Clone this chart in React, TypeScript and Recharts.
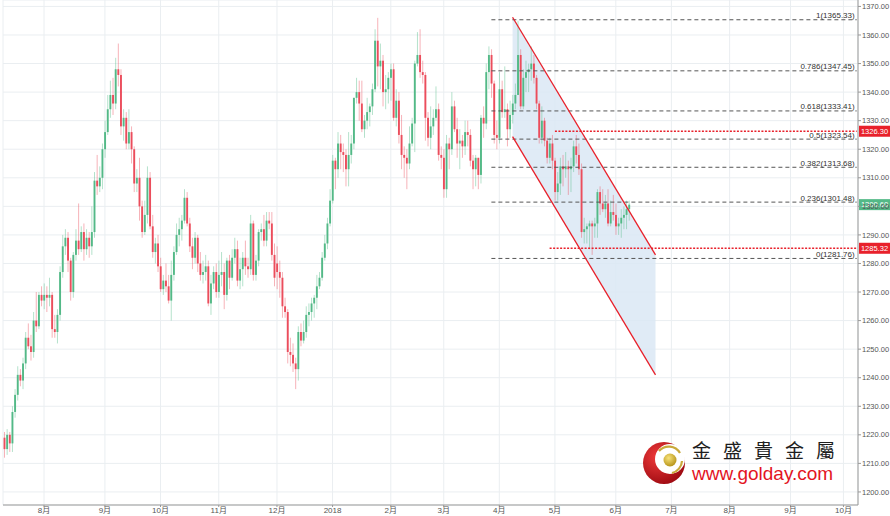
import React from "react";
import {
  ComposedChart, Bar, Area, Line, XAxis, YAxis,
  CartesianGrid, ReferenceLine,
} from "recharts";

// trading calendar
const START = "2017-07-11";
const SKIP_DAYS = ["2018-01-01", "2018-03-30"];
const N_DAYS = 323;

// daily candles [open, high, low, close]
const jul17 = [
  [1219,1221,1212,1215],[1215,1222,1213,1220],[1220,1221,1214,1217],[1217,1230,1214,1228],
  [1228,1236,1226,1234],[1234,1244,1232,1241],[1241,1243,1237,1239],[1239,1247,1236,1245],
  [1245,1256,1243,1254],[1254,1259,1250,1251],[1251,1255,1246,1249],[1249,1263,1247,1260],
  [1260,1270,1256,1258],[1258,1270,1257,1269],[1269,1272,1265,1267],
];
const aug17 = [
  [1267,1273,1264,1269],[1269,1272,1263,1268],[1268,1275,1265,1269],[1269,1270,1254,1257],
  [1257,1262,1254,1256],[1256,1264,1252,1262],[1262,1279,1260,1277],[1277,1290,1275,1286],
  [1286,1292,1283,1289],[1289,1291,1277,1281],[1281,1282,1267,1270],[1270,1284,1268,1283],
  [1283,1292,1281,1288],[1288,1301,1283,1285],[1285,1293,1284,1291],[1291,1294,1281,1285],
  [1285,1292,1283,1289],[1289,1291,1282,1286],[1286,1300,1283,1291],[1291,1312,1289,1309],
  [1309,1318,1304,1307],[1307,1314,1305,1310],[1310,1322,1306,1320],
];
const sep17 = [
  [1320,1330,1317,1326],[1326,1339,1325,1334],[1334,1344,1331,1339],[1339,1345,1332,1336],
  [1336,1352,1334,1348],[1348,1357,1342,1346],[1346,1348,1325,1328],[1328,1334,1323,1331],
  [1331,1333,1320,1322],[1322,1334,1320,1326],[1326,1328,1315,1320],[1320,1321,1305,1308],
  [1308,1313,1305,1310],[1310,1317,1295,1300],[1300,1302,1289,1291],[1291,1302,1290,1297],
  [1297,1314,1294,1310],[1310,1312,1292,1293],[1293,1297,1282,1284],[1284,1289,1280,1287],
  [1287,1290,1277,1279],
];
const oct17 = [
  [1279,1282,1270,1271],[1271,1276,1269,1274],[1274,1280,1270,1272],[1272,1276,1266,1267],
  [1267,1281,1260,1276],[1276,1286,1274,1284],[1284,1294,1283,1290],[1290,1296,1286,1292],
  [1292,1297,1288,1295],[1295,1306,1294,1303],[1303,1305,1293,1294],[1294,1296,1284,1286],
  [1286,1289,1278,1282],[1282,1291,1280,1289],[1289,1290,1277,1280],[1280,1284,1274,1276],
  [1276,1281,1273,1277],[1277,1283,1274,1279],[1279,1281,1265,1266],[1266,1276,1262,1273],
  [1273,1279,1271,1277],[1277,1280,1268,1270],
];
const nov17 = [
  [1270,1281,1268,1276],[1276,1284,1272,1277],[1277,1280,1264,1269],[1269,1282,1267,1281],
  [1281,1283,1271,1275],[1275,1285,1274,1282],[1282,1289,1280,1285],[1285,1288,1272,1274],
  [1274,1282,1271,1278],[1278,1284,1272,1282],[1282,1288,1276,1279],[1279,1282,1275,1278],
  [1278,1297,1276,1294],[1294,1295,1274,1276],[1276,1283,1274,1281],[1281,1292,1279,1291],
  [1291,1294,1288,1292],[1292,1297,1286,1288],[1288,1298,1286,1295],[1295,1298,1292,1294],
  [1294,1298,1281,1283],[1283,1287,1272,1275],
];
const dec17 = [
  [1280,1286,1271,1277],[1277,1281,1268,1275],[1275,1277,1261,1265],[1265,1268,1261,1263],
  [1263,1264,1245,1249],[1249,1254,1244,1248],[1248,1252,1242,1245],[1245,1247,1236,1243],
  [1243,1258,1239,1256],[1256,1259,1251,1253],[1253,1260,1252,1256],[1256,1265,1254,1262],
  [1262,1266,1258,1263],[1263,1268,1260,1266],[1266,1269,1261,1268],[1268,1276,1264,1272],
  [1272,1277,1271,1275],[1275,1284,1274,1282],[1282,1290,1281,1287],[1287,1296,1285,1294],
  [1294,1306,1293,1302],
];
const jan18 = [
  [1302,1318,1301,1316],[1316,1317,1306,1313],[1313,1326,1310,1322],[1322,1325,1313,1319],
  [1319,1322,1312,1318],[1318,1320,1307,1313],[1313,1326,1307,1318],[1318,1325,1315,1322],
  [1322,1338,1320,1338],[1338,1345,1336,1340],[1340,1344,1330,1336],[1336,1344,1326,1327],
  [1327,1332,1324,1330],[1330,1338,1327,1333],[1333,1336,1328,1335],[1335,1343,1332,1341],
  [1341,1362,1340,1358],[1358,1366,1342,1349],[1349,1357,1341,1351],[1351,1353,1335,1340],
  [1340,1346,1334,1341],[1341,1347,1336,1345],
];
const feb18 = [
  [1345,1350,1337,1348],[1348,1350,1330,1331],[1331,1341,1328,1337],[1337,1340,1322,1325],
  [1325,1332,1313,1318],[1318,1321,1310,1317],[1317,1320,1306,1315],[1315,1328,1313,1322],
  [1322,1331,1321,1329],[1329,1351,1319,1350],[1350,1361,1349,1353],[1353,1362,1345,1347],
  [1347,1351,1343,1346],[1346,1347,1323,1331],[1331,1333,1321,1324],[1324,1335,1320,1328],
  [1328,1334,1325,1331],[1331,1342,1330,1334],[1334,1336,1316,1318],[1318,1321,1313,1317],
];
const mar18 = [
  [1317,1320,1303,1306],[1306,1325,1303,1322],[1322,1324,1313,1320],[1320,1340,1318,1335],
  [1335,1337,1326,1327],[1327,1331,1317,1322],[1322,1327,1313,1323],[1323,1325,1317,1321],
  [1321,1330,1318,1326],[1326,1330,1321,1325],[1325,1327,1314,1316],[1316,1318,1306,1313],
  [1313,1318,1307,1317],[1317,1317,1306,1311],[1311,1332,1308,1331],[1331,1335,1324,1329],
  [1329,1350,1327,1347],[1347,1356,1341,1353],[1353,1355,1338,1343],[1343,1344,1322,1325],
  [1325,1330,1320,1324],
];
const apr18 = [
  [1324,1347,1322,1341],[1341,1344,1331,1333],[1333,1349,1331,1334],[1334,1336,1321,1327],
  [1327,1337,1324,1332],[1332,1339,1329,1336],[1336,1343,1334,1339],[1339,1365,1339,1353],
  [1353,1355,1334,1335],[1335,1348,1334,1345],[1345,1351,1340,1347],[1347,1350,1340,1348],
  [1348,1356,1344,1350],[1350,1353,1343,1345],[1345,1346,1334,1336],[1336,1337,1322,1324],
  [1324,1335,1322,1330],[1330,1331,1321,1323],[1323,1324,1315,1317],[1317,1324,1315,1322],
  [1322,1325,1313,1316],
];
const may18 = [
  [1316,1317,1302,1305],[1305,1312,1302,1308],[1308,1317,1304,1314],[1314,1318,1307,1313],
  [1313,1319,1310,1314],[1314,1316,1304,1313],[1313,1317,1305,1314],[1314,1323,1312,1321],
  [1321,1325,1315,1318],[1318,1322,1311,1313],[1313,1315,1289,1291],[1291,1296,1287,1292],
  [1292,1294,1287,1293],[1293,1295,1285,1294],[1294,1295,1283,1293],[1293,1296,1289,1294],
  [1294,1306,1289,1305],[1305,1307,1297,1301],[1301,1306,1298,1299],[1299,1304,1296,1301],
  [1301,1306,1293,1294],[1294,1302,1293,1298],[1298,1304,1295,1297],
];
const jun18 = [
  [1297,1301,1290,1293],[1293,1296,1290,1294],[1294,1299,1289,1296],[1296,1300,1292,1297],
  [1297,1302,1292,1299],[1299,1302,1295,1300.6],
];
const OHLC = [
  ...jul17, ...aug17, ...sep17, ...oct17, ...nov17, ...dec17,
  ...jan18, ...feb18, ...mar18, ...apr18, ...may18, ...jun18,
];

// fibonacci retracement
const FIB_RATIOS = ["1", "0.786", "0.618", "0.5", "0.382", "0.236", "0"];
const FIB_VALUES = [1365.33, 1347.45, 1333.41, 1323.54, 1313.68, 1301.48, 1281.76];
const FIB_FROM = "2018-03-27";

// falling channel
const CHANNEL_DATES = ["2018-04-09", "2018-06-22"];
const CHANNEL_UPPER = [1366.2, 1283.0];
const CHANNEL_LOWER = [1324.4, 1241.0];

// horizontal levels
const RED_LEVELS = [1326.3, 1285.32];
const RED_FROM = ["2018-05-01", "2018-04-27"];
const LAST_PRICE = 1300.6;

const Y_TICKS = [1200,1210,1220,1230,1240,1250,1260,1270,1280,1290,1300,1310,1320,1330,1340,1350,1360,1370];

const UP = "#53b987";
const DOWN = "#eb4d5c";
const RED = "#e8212b";
const FONT = "'Liberation Sans', Arial, 'Noto Sans CJK SC', sans-serif";
const PLOT_RIGHT = 858;

function tradingDays(start: string, n: number) {
  const out: string[] = [];
  const d = new Date(start + "T00:00:00Z");
  while (out.length < n) {
    const wd = d.getUTCDay();
    const s = d.toISOString().slice(0, 10);
    if (wd !== 0 && wd !== 6 && !SKIP_DAYS.includes(s)) out.push(s);
    d.setUTCDate(d.getUTCDate() + 1);
  }
  return out;
}

const dates = tradingDays(START, N_DAYS);
const monthTicks = dates.filter((d, i) => i > 0 && d.slice(5, 7) !== dates[i - 1].slice(5, 7));

const data = dates.map((date, i) => {
  const row: any = { date };
  const k = OHLC[i];
  if (k) {
    row.o = k[0]; row.h = k[1]; row.l = k[2]; row.c = k[3];
    row.range = [k[2], k[1]];
  }
  const ci = CHANNEL_DATES.indexOf(date);
  if (ci >= 0) {
    row.chan = [CHANNEL_LOWER[ci], CHANNEL_UPPER[ci]];
    row.chUp = CHANNEL_UPPER[ci];
    row.chLo = CHANNEL_LOWER[ci];
  }
  return row;
});

function monthLabel(d: string) {
  const [y, m] = d.split("-");
  return m === "01" ? y : parseInt(m, 10) + "月";
}

function Candle(props: any) {
  const { x, y, width, height, payload } = props;
  if (!payload || payload.o == null) return null;
  const { o, h, l, c } = payload;
  const span = h - l || 1;
  const py = (v: number) => y + ((h - v) / span) * height;
  const color = c >= o ? UP : DOWN;
  const cx = x + width / 2;
  const top = py(Math.max(o, c));
  const bot = py(Math.min(o, c));
  const bw = 1.9;
  return (
    <g>
      <line x1={cx} x2={cx} y1={y} y2={y + height} stroke={color} strokeWidth={0.8} strokeOpacity={0.55} />
      <rect x={cx - bw / 2} y={top} width={bw} height={Math.max(bot - top, 0.8)} fill={color} />
    </g>
  );
}

const fibLabel = (text: string) => (props: any) => {
  const vb = props.viewBox || {};
  return (
    <text x={(vb.x || 0) + (vb.width || 0) - 2} y={(vb.y || 0) - 1.5} textAnchor="end"
      fontSize={8} fontFamily={FONT} fill="#333">{text}</text>
  );
};

const priceTag = (value: number, color: string) => (props: any) => {
  const vb = props.viewBox || {};
  const yy = vb.y || 0;
  return (
    <g>
      <rect x={PLOT_RIGHT + 1} y={yy - 5.5} width={31} height={11} fill={color} />
      <text x={PLOT_RIGHT + 16.5} y={yy + 2.8} textAnchor="middle" fontSize={7.5}
        fontFamily={FONT} fill="#fff">{value.toFixed(2)}</text>
    </g>
  );
};

function Logo() {
  return (
    <div style={{ position: "absolute", left: 642, top: 439, width: 200, height: 48 }}>
      <svg width={44} height={48} style={{ position: "absolute", left: 0, top: 0 }}>
        <defs>
          <radialGradient id="rg" cx="35%" cy="35%" r="70%">
            <stop offset="0%" stopColor="#f03a3a" />
            <stop offset="100%" stopColor="#9e0b12" />
          </radialGradient>
          <radialGradient id="gg" cx="40%" cy="35%" r="65%">
            <stop offset="0%" stopColor="#f7e27a" />
            <stop offset="100%" stopColor="#b8961c" />
          </radialGradient>
        </defs>
        <circle cx={22} cy={24} r={21} fill="url(#rg)" />
        <circle cx={28} cy={20} r={15} fill="#fff" />
        <circle cx={28} cy={21} r={6.5} fill="url(#gg)" />
        <path d="M17 12 A13 13 0 0 1 38 14" stroke="#c9a93a" strokeWidth={2.2} fill="none" />
        <path d="M40 22 A13 13 0 0 1 30 34" stroke="#c9a93a" strokeWidth={2.2} fill="none" />
      </svg>
      <div style={{ position: "absolute", left: 50, top: 1, fontFamily: "'Noto Sans CJK TC'",
        fontSize: 19, lineHeight: "20px", letterSpacing: 12, color: "#1e1e1e", whiteSpace: "nowrap" }}>
        金盛貴金屬
      </div>
      <div style={{ position: "absolute", left: 50, top: 25, fontFamily: "'Liberation Sans', Arial",
        fontSize: 19, lineHeight: "19px", color: "#e3141f", whiteSpace: "nowrap" }}>
        www.golday.com
      </div>
    </div>
  );
}

export default function App() {
  const last = dates[dates.length - 1];
  return (
    <div style={{ position: "absolute", left: 0, top: 0, width: 890, height: 516,
      overflow: "hidden", background: "#fff" }}>
      <ComposedChart width={890} height={516} data={data} barCategoryGap={0}
        margin={{ top: 0, right: 0, left: 3, bottom: 0 }}>
        <CartesianGrid stroke="#eaeef1" />
        <XAxis dataKey="date" ticks={monthTicks} interval={0} tickFormatter={monthLabel}
          height={11} tickSize={2} tickMargin={0} stroke="#999"
          tick={{ fontSize: 8, fill: "#555", fontFamily: FONT }} />
        <YAxis orientation="right" type="number" width={32} domain={[1195.43, 1372.25]}
          allowDataOverflow ticks={Y_TICKS} tickFormatter={(v: number) => v.toFixed(2)}
          tickSize={3} tickMargin={1} stroke="#999"
          tick={{ fontSize: 7.5, fill: "#555", fontFamily: FONT }} />
        <Area dataKey="chan" type="linear" connectNulls stroke="none" fill="#dbe8f5"
          fillOpacity={0.85} isAnimationActive={false} dot={false} activeDot={false} />
        {FIB_VALUES.map((v, i) => (
          <ReferenceLine key={"f" + i} segment={[{ x: FIB_FROM, y: v }, { x: last, y: v }]}
            stroke="#555" strokeDasharray="4 3" strokeWidth={1}
            label={fibLabel(`${FIB_RATIOS[i]}(${v.toFixed(2)})`)} />
        ))}
        <Bar dataKey="range" shape={<Candle />} isAnimationActive={false} />
        <Line dataKey="chUp" type="linear" connectNulls stroke={RED} strokeWidth={1.3}
          dot={false} activeDot={false} isAnimationActive={false} />
        <Line dataKey="chLo" type="linear" connectNulls stroke={RED} strokeWidth={1.3}
          dot={false} activeDot={false} isAnimationActive={false} />
        {RED_LEVELS.map((v, i) => (
          <ReferenceLine key={"r" + i} segment={[{ x: RED_FROM[i], y: v }, { x: last, y: v }]}
            stroke={RED} strokeDasharray="2 1.5" strokeWidth={1.6}
            label={priceTag(v, RED)} />
        ))}
        <ReferenceLine y={LAST_PRICE} stroke="none" label={priceTag(LAST_PRICE, UP)} />
      </ComposedChart>
      <Logo />
    </div>
  );
}
